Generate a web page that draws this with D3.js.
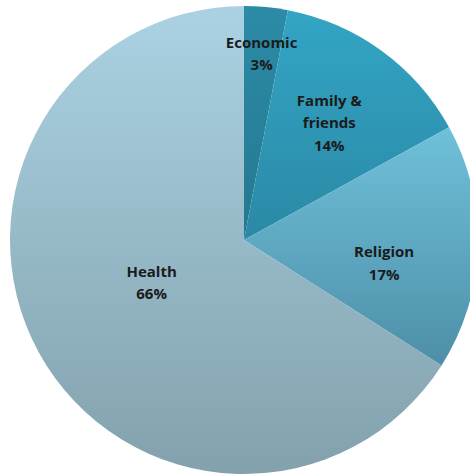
<!DOCTYPE html>
<html>
<head>
<meta charset="utf-8">
<script src="https://cdn.jsdelivr.net/npm/d3@7"></script>
<style>
  html, body { margin: 0; padding: 0; background: #ffffff; }
  svg { display: block; }
</style>
</head>
<body>
<script>
// Share of responses by category (percent), clockwise from 12 o'clock
const categories = ["Economic", "Family & friends", "Religion", "Health"];
const values = [3, 14, 17, 66];
// Label lines drawn inside each slice
const labelLines = [["Economic", "3%"], ["Family &", "friends", "14%"], ["Religion", "17%"], ["Health", "66%"]];
// Vertical gradient stops (top, bottom) for each slice
const topColors = ["#2c8ba7", "#33a5c5", "#6fc0da", "#abd2e3"];
const bottomColors = ["#25788f", "#2a89a5", "#4d8fa7", "#82a1ac"];

const width = 470, height = 475;
const cx = 244, cy = 240, radius = 234;

const svg = d3.select("body").append("svg")
  .attr("width", width)
  .attr("height", height);

const defs = svg.append("defs");
categories.forEach((c, i) => {
  const g = defs.append("linearGradient")
    .attr("id", "grad" + i)
    .attr("x1", 0).attr("y1", 0).attr("x2", 0).attr("y2", 1);
  g.append("stop").attr("offset", "0%").attr("stop-color", topColors[i]);
  g.append("stop").attr("offset", "100%").attr("stop-color", bottomColors[i]);
});

const data = categories.map((c, i) => ({ name: c, value: values[i], lines: labelLines[i], i }));

const pie = d3.pie().sort(null).value(d => d.value);
const arcs = pie(data);
const arc = d3.arc().innerRadius(0).outerRadius(radius);

const g = svg.append("g").attr("transform", `translate(${cx},${cy})`);

g.selectAll("path.slice")
  .data(arcs)
  .join("path")
  .attr("class", "slice")
  .attr("d", arc)
  .attr("fill", d => `url(#grad${d.data.i})`);

// Label placement: radius as a fraction of the outer radius, and a small
// angular nudge (degrees) away from the slice's mid-angle
const labelRadius = [0.80, 0.62, 0.607, 0.435];
const labelNudge = [0, 0, 7.5, 4];
const lineHeight = 22.5;

const labels = g.selectAll("text.label")
  .data(arcs)
  .join("text")
  .attr("class", "label")
  .attr("text-anchor", "middle")
  .attr("font-family", "'Open Sans', Lato, sans-serif")
  .attr("font-weight", "bold")
  .attr("font-size", 15)
  .attr("fill", "#1b1b1b")
  .attr("transform", d => {
    const a = (d.startAngle + d.endAngle) / 2 + labelNudge[d.data.i] * Math.PI / 180;
    const r = radius * labelRadius[d.data.i];
    return `translate(${Math.sin(a) * r},${-Math.cos(a) * r})`;
  });

labels.each(function(d) {
  const lines = d.data.lines;
  const n = lines.length;
  d3.select(this).selectAll("tspan")
    .data(lines)
    .join("tspan")
    .attr("x", 0)
    .attr("y", (t, k) => (k - (n - 1) / 2) * lineHeight + 5.5)
    .text(t => t);
});
</script>
</body>
</html>
